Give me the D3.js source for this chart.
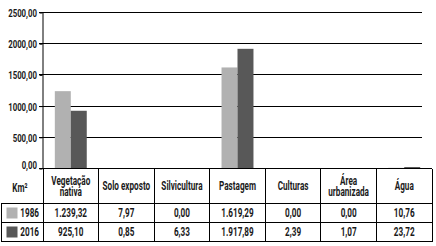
<!DOCTYPE html>
<html>
<head>
<meta charset="utf-8">
<script src="https://cdn.jsdelivr.net/npm/d3@7"></script>
<style>
  body { margin: 0; background: #fff; }
  text { font-family: Roboto, "Liberation Sans", sans-serif; font-weight: bold; fill: #1a1a1a; }
</style>
</head>
<body>
<div id="chart"></div>
<script>
// categories (header lines) and values, km²
var categories = ["Vegetação nativa", "Solo exposto", "Silvicultura", "Pastagem", "Culturas", "Área urbanizada", "Água"];
var headerLines = [["Vegetação", "nativa"], ["Solo exposto"], ["Silvicultura"], ["Pastagem"], ["Culturas"], ["Área", "urbanizada"], ["Água"]];
var years = ["1986", "2016"];
var values1986 = [1239.32, 7.97, 0.00, 1619.29, 0.00, 0.00, 10.76];
var values2016 = [925.10, 0.85, 6.33, 1917.89, 2.39, 1.07, 23.72];
var yTicks = [0, 500, 1000, 1500, 2000, 2500];
var colors = ["#b1b1b1", "#585858"];

var width = 436, height = 246;
var series = [values1986, values2016];
var squeeze = 0.68; // condensed look

var locale = d3.formatLocale({decimal: ",", thousands: ".", grouping: [3], currency: ["", ""]});
var axisFmt = locale.format(".2f");
var cellFmt = locale.format(",.2f");

var svg = d3.select("#chart").append("svg")
    .attr("width", width)
    .attr("height", height);

var x = d3.scaleBand().domain(categories).range([43, 432]);
var x1 = d3.scaleBand().domain(years).range([0, x.bandwidth()]).paddingOuter(0.74);
var y = d3.scaleLinear().domain([0, 2500]).range([168.5, 12.5]);

// gridlines
svg.append("g").selectAll("line")
    .data(yTicks)
    .enter().append("line")
        .attr("x1", 39).attr("x2", 422)
        .attr("y1", function(d){ return y(d); })
        .attr("y2", function(d){ return y(d); })
        .attr("stroke", "#000")
        .attr("shape-rendering", "crispEdges");

// bars
var rows = categories.map(function(c, i){
    return {cat: c, vals: years.map(function(yr, j){ return {year: yr, j: j, v: series[j][i]}; })};
});
svg.append("g").selectAll("g")
    .data(rows)
    .enter().append("g")
        .attr("transform", function(d){ return "translate(" + x(d.cat) + ",0)"; })
    .selectAll("rect")
    .data(function(d){ return d.vals; })
    .enter().append("rect")
        .attr("x", function(d){ return x1(d.year); })
        .attr("width", x1.bandwidth())
        .attr("y", function(d){ return y(d.v); })
        .attr("height", function(d){ return y(0) - y(d.v); })
        .attr("fill", function(d){ return colors[d.j]; });

// y axis
var yAxis = svg.append("g")
    .attr("transform", "translate(42.5,0)")
    .call(d3.axisLeft(y).tickValues(yTicks).tickSize(3).tickSizeOuter(0).tickFormat(axisFmt));
yAxis.attr("font-family", null).attr("font-size", null);
yAxis.select(".domain").attr("stroke", "#000");
yAxis.selectAll(".tick line").attr("stroke", "#000");
yAxis.selectAll(".tick text")
    .attr("x", -5.5 / squeeze)
    .attr("transform", "scale(" + squeeze + ",1)")
    .attr("dy", function(d){ return d === 0 ? "0em" : "0.35em"; })
    .style("font-size", "11.5px");

// table
var rowY = [168.5, 203.5, 222.5, 241.5];
var colX = [x.range()[0]].concat(categories.map(function(c){ return x(c) + x.bandwidth(); }));
var table = svg.append("g").attr("stroke", "#000").attr("shape-rendering", "crispEdges");
table.append("line").attr("x1", 43).attr("x2", 432).attr("y1", rowY[0]).attr("y2", rowY[0]);
[1, 2, 3].forEach(function(k){
    table.append("line").attr("x1", 1).attr("x2", 432).attr("y1", rowY[k]).attr("y2", rowY[k]);
});
colX.forEach(function(cx){
    table.append("line").attr("x1", cx).attr("x2", cx).attr("y1", rowY[0]).attr("y2", rowY[3]);
});
table.append("line").attr("x1", 1.5).attr("x2", 1.5).attr("y1", rowY[1]).attr("y2", rowY[3]);

var txt = svg.append("g")
    .style("font-size", "12px");

function label(cx, cy, s, anchor) {
    txt.append("text")
        .attr("transform", "translate(" + cx + "," + cy + ") scale(" + squeeze + ",1)")
        .attr("text-anchor", anchor || "middle")
        .attr("dy", "0.35em")
        .text(s);
}

// header cells
headerLines.forEach(function(lines, i){
    var cx = x(categories[i]) + x.bandwidth() / 2;
    var mid = (rowY[0] + rowY[1]) / 2;
    lines.forEach(function(l, k){
        label(cx, mid + (k - (lines.length - 1) / 2) * 11, l);
    });
});
label(20, 188, "Km²");

// value rows
years.forEach(function(yr, j){
    var mid = (rowY[j + 1] + rowY[j + 2]) / 2;
    svg.append("rect")
        .attr("x", 6.5).attr("y", mid - 5.5)
        .attr("width", 11).attr("height", 11)
        .attr("fill", colors[j]);
    label(39, mid, yr, "end");
    series[j].forEach(function(v, i){
        label(x(categories[i]) + x.bandwidth() / 2, mid, cellFmt(v));
    });
});
</script>
</body>
</html>
